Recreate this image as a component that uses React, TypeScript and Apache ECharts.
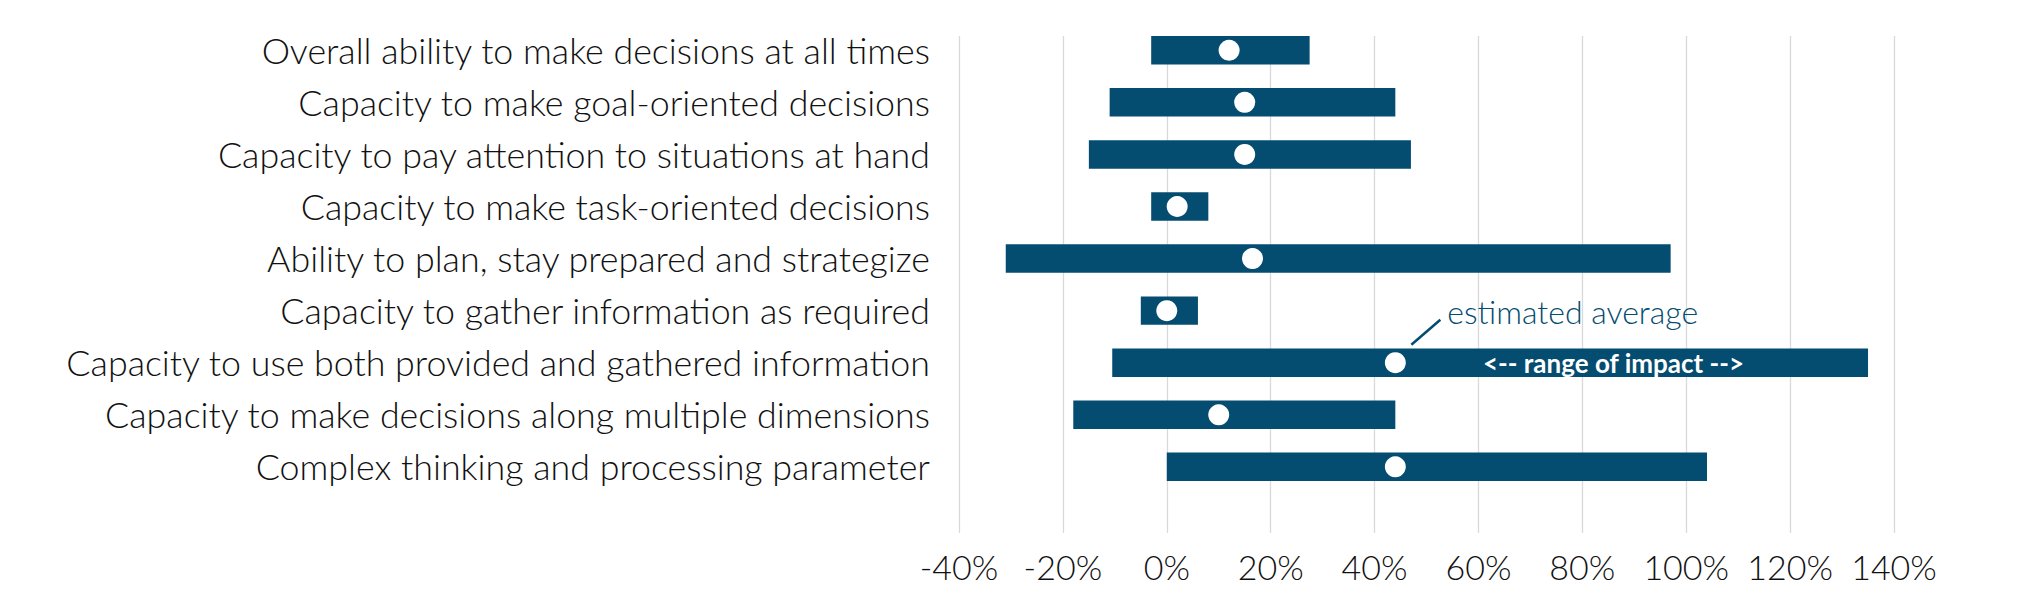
import React, { useEffect, useRef } from "react";
import * as echarts from "echarts";

const categories = [
  "Overall ability to make decisions at all times",
  "Capacity to make goal-oriented decisions",
  "Capacity to pay attention to situations at hand",
  "Capacity to make task-oriented decisions",
  "Ability to plan, stay prepared and strategize",
  "Capacity to gather information as required",
  "Capacity to use both provided and gathered information",
  "Capacity to make decisions along multiple dimensions",
  "Complex thinking and processing parameter",
];
const lowValues = [-3, -11, -15, -3, -31, -5, -10.5, -18, 0];
const avgValues = [12, 15, 15, 2, 16.5, 0, 44, 10, 44];
const highValues = [27.5, 44, 47, 8, 97, 6, 135, 44, 104];

const xMin = -40;
const xMax = 140;
const xInterval = 20;

const annotatedRow = 6;
const rangeLabelValue = 86;
const avgLabel = "estimated average";
const rangeLabel = "<-- range of impact -->";

const BAR = "#044c70";
const FONT = "Lato, 'Open Sans', sans-serif";
const GRID_LEFT = 959;
const GRID_RIGHT = 131;

export default function App() {
  const ref = useRef<HTMLDivElement>(null);
  useEffect(() => {
    if (!ref.current) return;
    const chart = echarts.init(ref.current, null, { renderer: "svg", width: 2025, height: 600 });
    const option: any = {
      animation: false,
      backgroundColor: "#ffffff",
      grid: [
        { left: GRID_LEFT, right: GRID_RIGHT, top: 24.2, height: 468.7, containLabel: false },
        { left: GRID_LEFT, right: GRID_RIGHT, top: 36, bottom: 67, containLabel: false },
      ],
      xAxis: [
        {
          gridIndex: 0, type: "value", min: xMin, max: xMax, interval: xInterval,
          show: false, splitLine: { show: false },
        },
        {
          gridIndex: 1, type: "value", min: xMin, max: xMax, interval: xInterval,
          axisLine: { show: false }, axisTick: { show: false },
          splitLine: { show: true, lineStyle: { color: "#d9d9d9", width: 1.3 } },
          axisLabel: {
            formatter: (v: number) => `${v}%`, color: "#111111", fontSize: 34,
            fontFamily: FONT, fontWeight: 300, margin: 16,
          },
        },
      ],
      yAxis: [
        {
          gridIndex: 0, type: "category", data: categories, inverse: true,
          axisLine: { show: false }, axisTick: { show: false }, splitLine: { show: false },
          axisLabel: { color: "#111111", fontSize: 35.8, fontFamily: FONT, fontWeight: 300, margin: 29 },
        },
        { gridIndex: 1, type: "value", min: 0, max: 1, show: false, splitLine: { show: false } },
      ],
      series: [
        {
          type: "custom",
          xAxisIndex: 0, yAxisIndex: 0,
          encode: { x: [1, 2], y: 0 },
          data: categories.map((_, i) => [i, lowValues[i], highValues[i]]),
          renderItem: (params: any, api: any) => {
            const idx = api.value(0);
            const lo = api.coord([api.value(1), idx]);
            const hi = api.coord([api.value(2), idx]);
            const h = api.size([0, 1])[1] * 0.547;
            return {
              type: "rect",
              shape: { x: lo[0], y: lo[1] - h / 2, width: hi[0] - lo[0], height: h },
              style: { fill: BAR },
            };
          },
          z: 2,
        },
        {
          type: "scatter",
          xAxisIndex: 0, yAxisIndex: 0,
          data: avgValues.map((v, i) => [v, i]),
          symbol: "circle", symbolSize: 21,
          itemStyle: { color: "#ffffff", opacity: 1 },
          z: 3,
        },
      ],
    };
    chart.setOption(option);
    const dot = chart.convertToPixel({ seriesIndex: 1 }, [avgValues[annotatedRow], annotatedRow]) as number[];
    const mid = chart.convertToPixel({ seriesIndex: 1 }, [rangeLabelValue, annotatedRow]) as number[];
    chart.setOption({
      graphic: [
        {
          type: "line",
          shape: { x1: dot[0] + 16, y1: dot[1] - 18, x2: dot[0] + 45, y2: dot[1] - 43 },
          style: { stroke: BAR, lineWidth: 2.5 },
          z: 10,
        },
        {
          type: "text", x: dot[0] + 52, y: dot[1] - 51,
          style: {
            text: avgLabel, fill: BAR, fontSize: 32, fontFamily: FONT, fontWeight: 300,
            align: "left", verticalAlign: "middle",
          },
          z: 10,
        },
        {
          type: "text", x: mid[0], y: mid[1],
          style: {
            text: rangeLabel, fill: "#ffffff", fontSize: 26, fontFamily: FONT, fontWeight: "bold",
            align: "center", verticalAlign: "middle",
          },
          z: 10,
        },
      ],
    });
    return () => chart.dispose();
  }, []);
  return (
    <div
      ref={ref}
      style={{ position: "fixed", left: 0, top: 0, width: 2025, height: 600, background: "#ffffff" }}
    />
  );
}
